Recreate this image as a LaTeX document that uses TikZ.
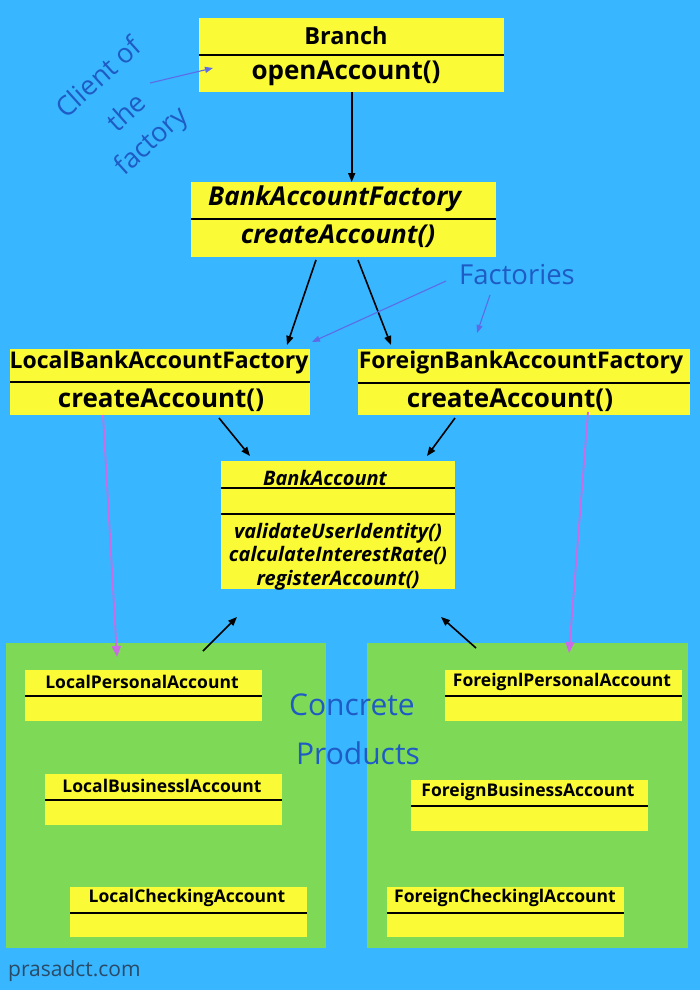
\documentclass[tikz,border=0pt]{standalone}
\usepackage{fontspec}
\setmainfont{Open Sans}
\usepackage{xcolor}
\usetikzlibrary{arrows.meta}
\usetikzlibrary{calc}

\definecolor{skyblue}{HTML}{38B6FF}
\definecolor{clsyellow}{HTML}{FAFA37}
\definecolor{pkggreen}{HTML}{7ED957}
\definecolor{violetline}{HTML}{CB6CE6}
\definecolor{notearrow}{HTML}{5E6BE8}
\definecolor{notetext}{HTML}{1F5BC4}
\definecolor{footgrey}{HTML}{2B4A66}
\newcommand{\fsz}[1]{\fontsize{#1}{#1}\selectfont}

\begin{document}
\begin{tikzpicture}[x=1pt, y=-1pt,
    cls/.style={fill=clsyellow, inner sep=0pt, anchor=north west},
    pkg/.style={fill=pkggreen, inner sep=0pt, anchor=north west},
    divline/.style={line width=1.6pt},
    arr/.style={-{Triangle[length=9pt, width=7pt]}, line width=1.6pt},
    varr/.style={-{Triangle[length=11pt, width=9pt]}, line width=1.8pt, violetline},
    narr/.style={-{Triangle[length=8pt, width=6pt]}, line width=1.1pt, notearrow},
    note/.style={text=notetext, inner sep=0pt}]

      \useasboundingbox (0,0) rectangle (700,990);
      \fill [skyblue] (0,0) rectangle (700,990);

      % packages of concrete products
      \node [pkg, minimum width=320, minimum height=305] (localpkg) at (6,643) {};
      \node [pkg, minimum width=321, minimum height=305] (foreignpkg) at (367,643) {};

      % client
      \node [cls, minimum width=305, minimum height=74] (branch) at (199,18) {};
      \draw [divline] (199,55) -- (504,55);
      \node [font=\bfseries\fsz{23.5}] (branchhead) at (346,36) {Branch};
      \node [font=\bfseries\fsz{26}] (branchop) at (346,73) {openAccount()};

      % abstract factory
      \node [cls, minimum width=305, minimum height=75] (baf) at (191,182) {};
      \draw [divline] (191,219) -- (496,219);
      \node [font=\bfseries\itshape\fsz{26}, anchor=west, inner sep=0pt] (bafhead) at (208,199) {BankAccountFactory};
      \node [font=\bfseries\itshape\fsz{26}] (bafop) at (338,236) {createAccount()};

      % factories
      \node [cls, minimum width=300, minimum height=66] (lbaf) at (10,349) {};
      \draw [divline] (10,382) -- (310,382);
      \node [font=\bfseries\fsz{23}] (lbafhead) at (159,363) {LocalBankAccountFactory};
      \node [font=\bfseries\fsz{26}] (lbafop) at (161,400) {createAccount()};

      \node [cls, minimum width=332, minimum height=66] (fbaf) at (358,349) {};
      \draw [divline] (358,383) -- (690,383);
      \node [font=\bfseries\fsz{23}] (fbafhead) at (521,363) {ForeignBankAccountFactory};
      \node [font=\bfseries\fsz{26}] (fbafop) at (510,400) {createAccount()};

      % abstract product
      \node [cls, minimum width=234, minimum height=128] (bacc) at (221,461) {};
      \draw [divline] (221,488) -- (455,488);
      \draw [divline] (221,514) -- (455,514);
      \node [font=\bfseries\itshape\fsz{20}, anchor=west, inner sep=0pt] (bacchead) at (263,478) {BankAccount};
      \node [font=\bfseries\itshape\fsz{20}, align=center, text depth=0pt,
             execute at begin node=\setlength{\baselineskip}{23.5pt}] (baccops) at (338,554)
            {validateUserIdentity()\\calculateInterestRate()\\registerAccount()};

      % concrete products
      \node [cls, minimum width=237, minimum height=51] (lpa) at (25,670) {};
      \draw [divline] (25,696) -- (262,696);
      \node [font=\bfseries\fsz{17.5}] (lpahead) at (142,682) {LocalPersonalAccount};

      \node [cls, minimum width=237, minimum height=51] (lba) at (45,774) {};
      \draw [divline] (45,800) -- (282,800);
      \node [font=\bfseries\fsz{17.5}] (lbahead) at (162,786) {LocalBusinesslAccount};

      \node [cls, minimum width=237, minimum height=50] (lca) at (70,887) {};
      \draw [divline] (70,913) -- (307,913);
      \node [font=\bfseries\fsz{17.5}] (lcahead) at (187,898) {LocalCheckingAccount};

      \node [cls, minimum width=237, minimum height=51] (fpa) at (445,670) {};
      \draw [divline] (445,696) -- (682,696);
      \node [font=\bfseries\fsz{17.5}] (fpahead) at (562,682) {ForeignlPersonalAccount};

      \node [cls, minimum width=237, minimum height=51] (fba) at (411,780) {};
      \draw [divline] (411,806) -- (648,806);
      \node [font=\bfseries\fsz{17.5}] (fbahead) at (528,792) {ForeignBusinessAccount};

      \node [cls, minimum width=237, minimum height=50] (fca) at (387,887) {};
      \draw [divline] (387,913) -- (624,913);
      \node [font=\bfseries\fsz{17.5}] (fcahead) at (505,898) {ForeignCheckinglAccount};

      % notes
      \node [note, font=\fsz{27}, rotate=42] (client1) at (98,77) {Client of};
      \node [note, font=\fsz{27}, rotate=42] (client2) at (126,112) {the};
      \node [note, font=\fsz{27}, rotate=42] (client3) at (152,142) {factory};
      \node [note, font=\fsz{27.5}] (factories) at (517,275) {Factories};
      \node [note, font=\fsz{30}] (concrete) at (352,705) {Concrete};
      \node [note, font=\fsz{30}] (products) at (358,753) {Products};
      \node [text=footgrey, font=\fsz{21}, anchor=west, inner sep=0pt] (footer) at (8,971) {prasadct.com};

      % arrow ends
      \coordinate (clientfrom) at (150,83);
      \coordinate (clientto) at (213,68);
      \coordinate (factfrom) at (446,281);
      \coordinate (factto) at (312,342);
      \coordinate (fact2from) at (490,295);
      \coordinate (fact2to) at (477,333);
      \coordinate (bafl) at (316,260);
      \coordinate (lbafin) at (287,345);
      \coordinate (bafr) at (358,260);
      \coordinate (fbafin) at (391,345);
      \coordinate (lbafout) at (219,418);
      \coordinate (baccinl) at (250,456);
      \coordinate (fbafout) at (455,418);
      \coordinate (baccinr) at (427,456);
      \coordinate (localout) at (203,651);
      \coordinate (baccbl) at (237,617);
      \coordinate (foreignout) at (476,648);
      \coordinate (baccbr) at (441,617);
      \coordinate (lbafv) at (103,415);
      \coordinate (localin) at (117,657);
      \coordinate (fbafv) at (588,412);
      \coordinate (foreignin) at (569,653);

      \draw [arr] (branch.south) -- (branch.south |- baf.north);
      \draw [arr] (bafl) -- (lbafin);
      \draw [arr] (bafr) -- (fbafin);
      \draw [arr] (lbafout) -- (baccinl);
      \draw [arr] (fbafout) -- (baccinr);
      \draw [arr] (localout) -- (baccbl);
      \draw [arr] (foreignout) -- (baccbr);
      \draw [varr] (lbafv) -- (localin);
      \draw [varr] (fbafv) -- (foreignin);
      \draw [narr] (clientfrom) -- (clientto);
      \draw [narr] (factfrom) -- (factto);
      \draw [narr] (fact2from) -- (fact2to);

    \end{tikzpicture}
\end{document}
